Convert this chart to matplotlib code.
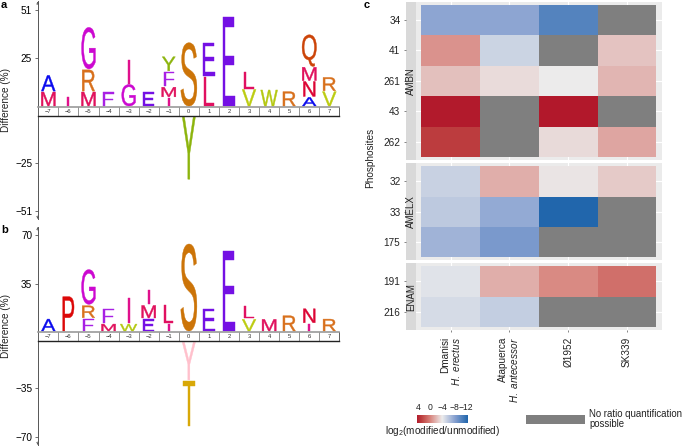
import numpy as np
import matplotlib
matplotlib.use('Agg')
import matplotlib.pyplot as plt
from matplotlib.colors import LinearSegmentedColormap, Normalize
from matplotlib.cm import ScalarMappable
from matplotlib.font_manager import FontProperties
from matplotlib.patches import PathPatch, Rectangle
from matplotlib.textpath import TextPath
from matplotlib.transforms import Affine2D

plt.rcParams['font.family'] = ['Liberation Sans', 'DejaVu Sans']
plt.rcParams['mathtext.fontset'] = 'custom'
plt.rcParams['mathtext.rm'] = 'Liberation Sans'
plt.rcParams['mathtext.it'] = 'Liberation Sans:italic'

W, H = 685, 446

positions = list(range(-7, 8))

# logo a, letters stacked from the band outwards
a_up_letters = [['M', 'A'], ['I'], ['M', 'R', 'G'], ['F'], ['G', 'I'], ['E'], ['I', 'M', 'F', 'Y'], ['S'],
                ['L', 'E'], ['E'], ['V', 'L'], ['W'], ['R'], ['A', 'N', 'M', 'Q'], ['V', 'R']]
a_up_heights = [[7.6, 8.5], [4.7], [7.6, 11.5, 22.5], [7.6], [11.7, 12.6], [7.6], [4.5, 5.2, 7.9, 7.6], [34.3],
                [15.9, 18], [48], [9, 9], [8.7], [7.8], [4.7, 8.1, 7.2, 17.1], [7.8, 7.2]]
a_down_letters = ['Y']
a_down_heights = [33.8]
a_ticks = [51, 25, -25, -51]

# logo b
b_up_letters = [['A'], ['P'], ['F', 'R', 'G'], ['M', 'F'], ['W', 'I'], ['E', 'M', 'I'], ['I', 'L'], ['S'],
                ['E'], ['E'], ['V', 'L'], ['M'], ['R'], ['I', 'N'], ['R']]
b_up_heights = [[8.6], [24.7], [8.6, 8.6, 25], [5, 10], [5, 18], [8.4, 9, 10], [5, 12.7], [62.6],
                [16], [57.6], [8.4, 8.6], [8.4], [11], [5, 10], [8.6]]
b_down_letters = ['Y', 'T']
b_down_heights = [27, 32]
b_ticks = [70, 35, -35, -70]

# heat map
samples = ['Dmanisi\n$\\mathit{H.\\ erectus}$', 'Atapuerca\n$\\mathit{H.\\ antecessor}$', 'Ø1952', 'SK339']
ambn_sites = ['34', '41', '261', '43', '262']
ambn_values = [[-8, -8, -10.4, np.nan],
               [-0.55, -5.4, np.nan, -2.4],
               [-2.3, -3.35, -4, -1.9],
               [4.5, np.nan, 4.6, np.nan],
               [3, np.nan, -3.3, -1.25]]
amelx_sites = ['32', '33', '175']
amelx_values = [[-5.5, -1.6, -3.7, -2.7],
                [-6, -7.7, -12.6, np.nan],
                [-7.2, -8.8, np.nan, np.nan]]
enam_sites = ['191', '216']
enam_values = [[-4.5, -1.6, -0.2, 0.9],
               [-5, -5.7, np.nan, np.nan]]
legend_ticks = [4, 0, -4, -8, -12]

colors = {'A': '#0a0aee', 'M': '#e0105c', 'I': '#e0108c', 'G': '#cc08d0', 'R': '#d8701c',
          'F': '#a820e4', 'E': '#7410e4', 'Y': '#8cb40c', 'S': '#cc7408', 'L': '#e01060',
          'V': '#bccc10', 'W': '#b4c810', 'Q': '#cc4408', 'N': '#dc0434', 'P': '#dc0808',
          'T': '#d8a808'}
font = FontProperties(family='Liberation Sans')
font_size = 7.2
axis_grey = '#555555'


def px_axes(x0, y0, x1, y1):
    # pixel box measured from the top left of the picture
    return fig.add_axes([x0 / W, 1 - y1 / H, (x1 - x0) / W, (y1 - y0) / H])


def letter(ax, ch, x, y, h, color):
    tp = TextPath((0, 0), ch, size=1, prop=font)
    bb = tp.get_extents()
    width = 0.8 if ch == 'S' else min(bb.width * 1.05, 0.84)
    sx = width / bb.width
    tr = Affine2D().translate(-bb.x0 - bb.width / 2, -bb.y0).scale(sx, h / bb.height).translate(x, y)
    ax.add_patch(PathPatch(tp, fc=color, ec=color, lw=0.3, transform=tr + ax.transData, clip_on=False))


def axis_arrow(ax, y0, y1):
    ax.annotate('', xy=(0, y1), xytext=(0, y0), xycoords='axes fraction',
                arrowprops=dict(arrowstyle='->', lw=0.5, color=axis_grey, mutation_scale=3.5,
                                shrinkA=0, shrinkB=0))


def logo(px_up, px_band, px_down, scale, zero_up, zero_down, base_up, base_down,
         up_letters, up_heights, down_letters, down_heights, ticks, gap):
    x0, x1 = 37.7, 339
    xlim = (-7.53, 7.48)

    up = px_axes(x0, px_up[0], x1, px_up[1])
    up.set_xlim(xlim)
    up.set_ylim((zero_up - px_up[1]) / scale, (zero_up - px_up[0]) / scale)
    for pos, letters, heights in zip(positions, up_letters, up_heights):
        y = base_up
        for ch, h in zip(letters, heights):
            letter(up, ch, pos, y, h, colors[ch])
            y += h + gap

    down = px_axes(x0, px_down[0], x1, px_down[1])
    down.set_xlim(xlim)
    down.set_ylim((zero_down - px_down[1]) / scale, (zero_down - px_down[0]) / scale)
    y = base_down
    for ch, h in zip(down_letters, down_heights):
        col = '#ffc0cc' if ch == 'Y' and len(down_letters) > 1 else colors[ch]
        letter(down, ch, 0, y - h, h, col)
        y -= h + gap

    for ax, tk in ((up, [t for t in ticks if t > 0]), (down, [t for t in ticks if t < 0])):
        for s in ('top', 'right', 'bottom'):
            ax.spines[s].set_visible(False)
        ax.spines['left'].set_color(axis_grey)
        ax.spines['left'].set_linewidth(0.7)
        ax.patch.set_alpha(0)
        ax.set_xticks([])
        ax.set_yticks(tk)
        ax.set_yticklabels([str(t).replace('-', '\u2212') for t in tk], fontsize=font_size)
        ax.tick_params(axis='y', length=2.5, width=0.6, color=axis_grey, pad=1.5)
    axis_arrow(up, 0.97, 1)
    axis_arrow(down, 0.03, 0)

    band = px_axes(x0, px_band[0], x1, px_band[1])
    band.set_xlim(xlim)
    band.set_ylim(0, 1)
    band.set_yticks([])
    band.set_xticks([])
    for s in band.spines.values():
        s.set_color('#444444')
        s.set_linewidth(0.6)
    band.spines['top'].set_color('#999999')
    band.spines['top'].set_linewidth(1.2)
    band.spines['bottom'].set_linewidth(1.0)
    band.spines['bottom'].set_color('#222222')
    for pos in positions[:-1]:
        band.axvline(pos + 0.5, color='#666666', lw=0.5)
    for pos in positions:
        band.text(pos, 0.48, str(pos).replace('-', '\u2212'), ha='center', va='center',
                  fontsize=4.2, color='#333333')
    return up


fig = plt.figure(figsize=(W / 100, H / 100), dpi=100)

logo((1.5, 106), (106.7, 115.7), (116.7, 219), 1.846, 104.2, 116.8, -1.0, 0,
     a_up_letters, a_up_heights, a_down_letters, a_down_heights, a_ticks, 0.5)
logo((227, 332.3), (332.3, 341.3), (341.3, 445), 1.39, 332.7, 339.7, 1.2, -1.9,
     b_up_letters, b_up_heights, b_down_letters, b_down_heights, b_ticks, 1.0)

fig.text(1 / W, 1 - 5 / H, 'a', fontsize=8, fontweight='bold', va='center')
fig.text(1 / W, 1 - 230 / H, 'b', fontsize=8, fontweight='bold', va='center')
fig.text(364 / W, 1 - 5 / H, 'c', fontsize=8, fontweight='bold', va='center')
fig.text(6 / W, 1 - 100 / H, 'Difference (%)', fontsize=font_size, rotation=90, ha='center', va='center',
         color='#222222')
fig.text(6 / W, 1 - 326 / H, 'Difference (%)', fontsize=font_size, rotation=90, ha='center', va='center',
         color='#222222')

# heat map panels
cmap = LinearSegmentedColormap.from_list('fill', [(0, '#2166ac'), (0.25, '#86a0d0'), (0.5, '#ececec'),
                                                  (0.75, '#d67d76'), (0.9, '#bd4040'), (1, '#b2182b')])
cmap.set_bad('#7f7f7f')
norm = Normalize(vmin=-12.6, vmax=4.6)


def heat_panel(top, bottom, name, sites, values, last=False):
    n = len(sites)
    ylim = (n + 0.1, -0.1)
    ax = px_axes(416, top, 661.7, bottom)
    ax.set_facecolor('#ebebeb')
    ax.set_xlim(-0.59, 3.59)
    ax.set_ylim(ylim)
    ax.pcolormesh(np.arange(5) - 0.5, np.arange(n + 1), np.ma.masked_invalid(values),
                  cmap=cmap, norm=norm, zorder=2)
    ax.set_xticks(range(4))
    ax.set_yticks(np.arange(n) + 0.5)
    ax.grid(color='white', lw=0.8, zorder=1)
    ax.set_axisbelow(True)
    ax.set_yticklabels([])
    ax.tick_params(axis='y', length=0)
    for s in ax.spines.values():
        s.set_visible(False)
    if last:
        ax.set_xticklabels(samples, rotation=90, fontsize=font_size, ha='center', va='top',
                           ma='right', color='#222222', linespacing=1.0)
        ax.tick_params(axis='x', length=1.5, width=0.5, color='#555555', pad=3.5)
    else:
        ax.tick_params(axis='x', length=0, labelbottom=False)

    strip = px_axes(406, top, 416, bottom)
    strip.set_facecolor('#d9d9d9')
    strip.set_ylim(ylim)
    strip.set_xticks([])
    strip.set_yticks(np.arange(n) + 0.5)
    strip.set_yticklabels(sites, fontsize=font_size, color='#222222')
    strip.tick_params(axis='y', length=1.5, width=0.5, color='#555555', pad=2.5)
    for s in strip.spines.values():
        s.set_visible(False)
    strip.text(0.5, 0.5, name, rotation=90, ha='center', va='center', fontsize=7,
               color='#222222', transform=strip.transAxes)


heat_panel(1.7, 160, 'AMBN', ambn_sites, ambn_values)
heat_panel(163.3, 260, 'AMELX', amelx_sites, amelx_values)
heat_panel(263.3, 330, 'ENAM', enam_sites, enam_values, last=True)

fig.text(370 / W, 1 - 158 / H, 'Phosphosites', fontsize=font_size, rotation=90, ha='center', va='center',
         color='#222222')

# legend
cax = px_axes(416.7, 415, 467.7, 422.7)
cb = fig.colorbar(ScalarMappable(norm=norm, cmap=cmap), cax=cax, orientation='horizontal')
cb.outline.set_visible(False)
cax.invert_xaxis()
cb.set_ticks(legend_ticks)
cb.set_ticklabels([str(t).replace('-', '\u2212') for t in legend_ticks])
cax.xaxis.set_ticks_position('top')
cax.tick_params(axis='x', length=0, pad=2, labelsize=6.2, labelcolor='#222222')
fig.text(442.7 / W, 1 - 431.5 / H, 'log$_2$(modified/unmodified)', fontsize=font_size, ha='center',
         va='center', color='#222222')

fig.add_artist(Rectangle((526.3 / W, 1 - 423.7 / H), 58.7 / W, 8.7 / H, fc='#7f7f7f', ec='none',
                         transform=fig.transFigure))
fig.text(589 / W, 1 - 419 / H, 'No ratio quantification\npossible', fontsize=6.9, ha='left', va='center',
         linespacing=0.95, color='#222222')

fig.savefig('out.png', dpi=100)
